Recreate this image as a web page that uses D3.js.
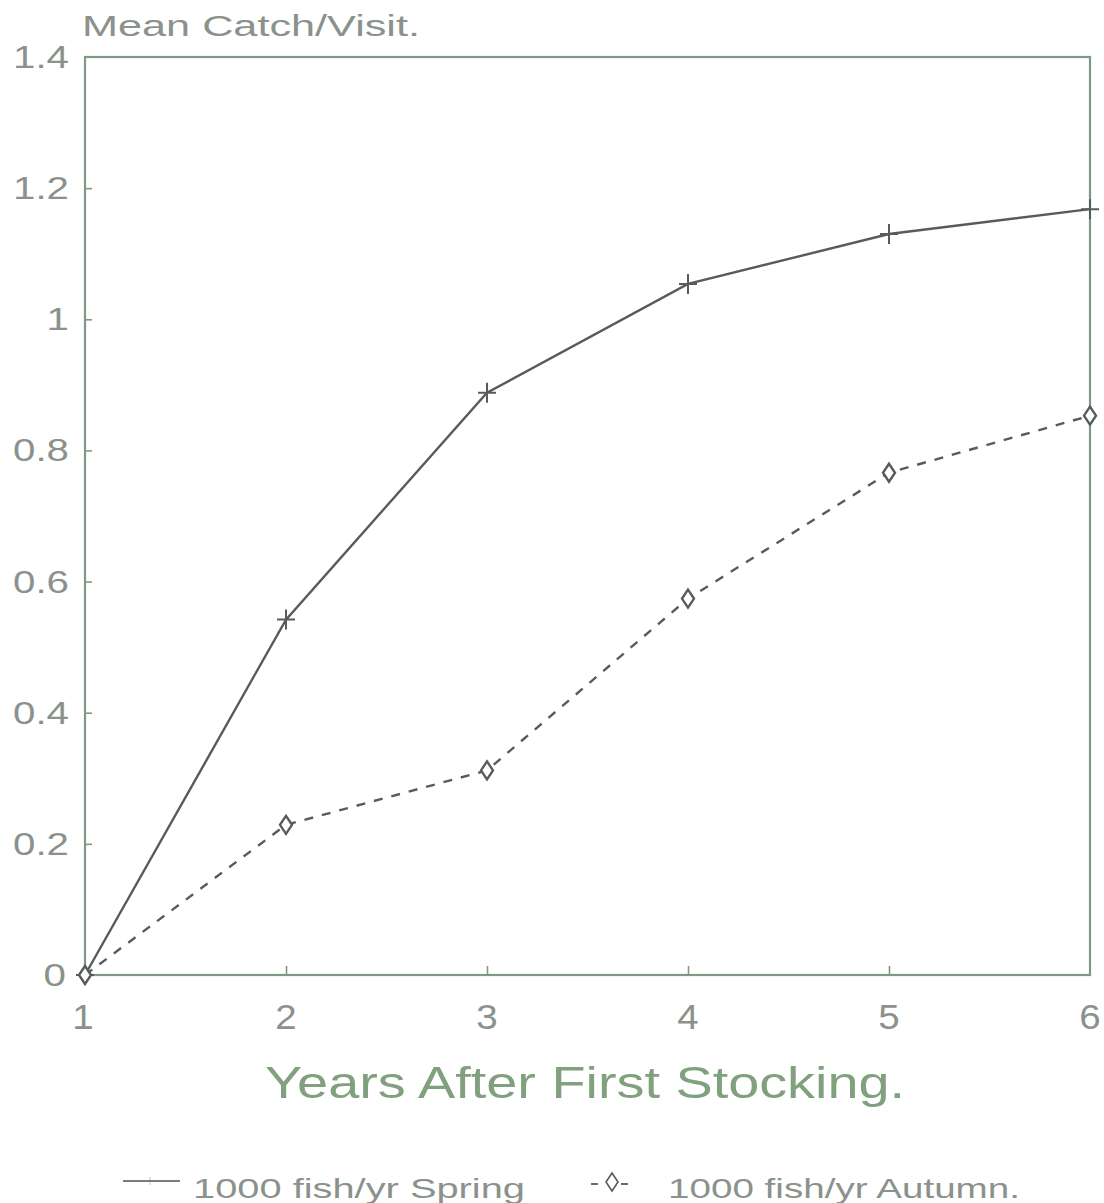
<!DOCTYPE html>
<html><head><meta charset="utf-8">
<script src="https://cdn.jsdelivr.net/npm/d3@7"></script>
<style>body{margin:0;background:#fff;} svg{display:block;} text{font-family:"Liberation Sans",Arial,sans-serif;}</style>
</head><body>
<svg id="c" width="1104" height="1203"></svg>
<script>
const years = [1, 2, 3, 4, 5, 6];
const spring = [0, 0.542, 0.888, 1.054, 1.130, 1.168];
const autumn = [0, 0.229, 0.312, 0.574, 0.766, 0.853];
const yTicks = [0, 0.2, 0.4, 0.6, 0.8, 1, 1.2, 1.4];
const yTickLabels = ["0", "0.2", "0.4", "0.6", "0.8", "1", "1.2", "1.4"];
const xTickLabels = ["1", "2", "3", "4", "5", "6"];
const seriesNames = ["1000 fish/yr Spring", "1000 fish/yr  Autumn."];
const yTitle = "Mean Catch/Visit.";
const xTitle = "Years After First Stocking.";

const svg = d3.select("#c");
const frameCol = "#7d9a84", lineCol = "#585c59", textCol = "#8a928b", titleCol = "#80a07e";
const x = d3.scaleLinear().domain([1, 6]).range([85, 1090]);
const y = d3.scaleLinear().domain([0, 1.4]).range([975, 57]);

// frame
svg.append("rect").attr("x", x(1)).attr("y", y(1.4)).attr("width", x(6) - x(1)).attr("height", y(0) - y(1.4))
  .attr("fill", "none").attr("stroke", frameCol).attr("stroke-width", 2.2);

// y axis ticks
const ya = svg.append("g").attr("transform", `translate(${x(1)},0)`)
  .call(d3.axisRight(y).tickValues(yTicks).tickSize(7).tickFormat(""));
ya.select(".domain").remove();
ya.selectAll("line").attr("stroke", frameCol).attr("stroke-width", 1.6);
ya.selectAll(".tick").filter(d => d === 0 || d === 1.4).remove();
svg.selectAll(".ylab").data(yTicks).join("text")
  .attr("transform", d => `translate(${d === 0 ? 66 : 69},${y(d) + 11}) scale(1.3,1)`)
  .attr("text-anchor", "end").attr("fill", textCol)
  .style("font-size", "31px")
  .text((d, i) => yTickLabels[i]);

// x axis ticks
const xa = svg.append("g").attr("transform", `translate(0,${y(0)})`)
  .call(d3.axisTop(x).tickValues(years).tickSize(9).tickFormat(""));
xa.select(".domain").remove();
xa.selectAll("line").attr("stroke", frameCol).attr("stroke-width", 1.6);
xa.selectAll(".tick").filter(d => d === 1 || d === 6).remove();
svg.selectAll(".xlab").data(years).join("text")
  .attr("transform", d => `translate(${x(d) - (d === 1 ? 2 : 0)},1029) scale(1.1,1)`)
  .attr("text-anchor", "middle").attr("fill", textCol)
  .style("font-size", "35px")
  .text((d, i) => xTickLabels[i]);

// titles
svg.append("text").attr("x", 82).attr("y", 36).attr("fill", textCol)
  .style("font-size", "29px")
  .attr("textLength", 338).attr("lengthAdjust", "spacingAndGlyphs").text(yTitle);
svg.append("text").attr("x", 265).attr("y", 1098).attr("fill", titleCol)
  .style("font-size", "45px")
  .attr("textLength", 640).attr("lengthAdjust", "spacingAndGlyphs").text(xTitle);

// lines
const line = d3.line().x((d, i) => x(years[i])).y(d => y(d));
svg.append("path").datum(spring).attr("d", line).attr("fill", "none")
  .attr("stroke", lineCol).attr("stroke-width", 2.4);
svg.append("path").datum(autumn).attr("d", line).attr("fill", "none")
  .attr("stroke", lineCol).attr("stroke-width", 2.4).attr("stroke-dasharray", "9,9");

// markers
svg.selectAll(".plus").data(spring).join("path")
  .attr("d", (d, i) => { const cx = x(years[i]), cy = y(d); return `M${cx-9},${cy}H${cx+9}M${cx},${cy-10}V${cy+10}`; })
  .attr("stroke", lineCol).attr("stroke-width", 2).attr("fill", "none");
const diamond = (cx, cy) => `M${cx},${cy-9}L${cx+6},${cy}L${cx},${cy+9}L${cx-6},${cy}Z`;
svg.selectAll(".dia").data(autumn).join("path")
  .attr("d", (d, i) => diamond(x(years[i]), y(d)))
  .attr("stroke", lineCol).attr("stroke-width", 2.4).attr("fill", "#fff");

// legend
const lg = svg.append("g");
lg.append("line").attr("x1", 123).attr("x2", 180).attr("y1", 1181).attr("y2", 1181)
  .attr("stroke", lineCol).attr("stroke-width", 1.8).attr("opacity", 0.8);
lg.append("line").attr("x1", 150).attr("x2", 150).attr("y1", 1177).attr("y2", 1185)
  .attr("stroke", lineCol).attr("stroke-width", 1.2).attr("opacity", 0.3);
lg.append("text").attr("x", 193).attr("y", 1198).attr("fill", textCol)
  .style("font-size", "28px")
  .attr("textLength", 332).attr("lengthAdjust", "spacingAndGlyphs").text(seriesNames[0]);
lg.append("line").attr("x1", 591).attr("x2", 598).attr("y1", 1184).attr("y2", 1184)
  .attr("stroke", lineCol).attr("stroke-width", 1.8);
lg.append("line").attr("x1", 621).attr("x2", 628).attr("y1", 1184).attr("y2", 1184)
  .attr("stroke", lineCol).attr("stroke-width", 1.8);
lg.append("path").attr("d", diamond(612, 1182)).attr("stroke", lineCol).attr("stroke-width", 1.6).attr("fill", "#fff");
lg.append("text").attr("x", 668).attr("y", 1198).attr("fill", textCol)
  .style("font-size", "28px")
  .attr("textLength", 352).attr("lengthAdjust", "spacingAndGlyphs").text(seriesNames[1]);
</script>
</body></html>
